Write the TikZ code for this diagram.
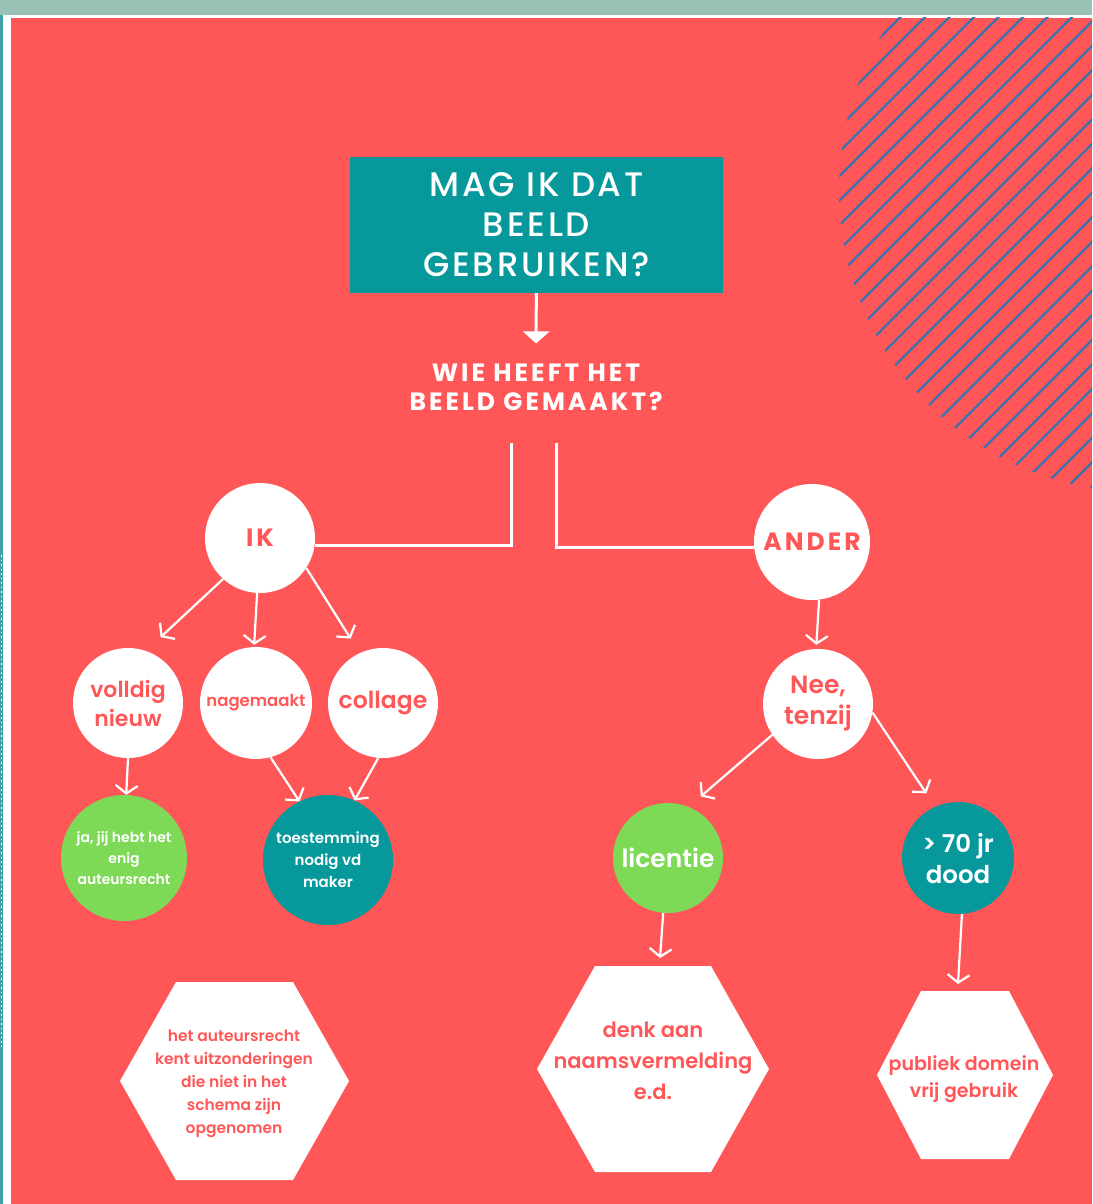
\documentclass[tikz,border=0pt]{standalone}
\usepackage{fontspec}
\setmainfont{Poppins}[UprightFont=* SemiBold, BoldFont=* Bold]
\newfontfamily\titelfont{Poppins}[UprightFont=* Medium, LetterSpace=8]
\newfontfamily\kopfont{Poppins}[UprightFont=* Bold, LetterSpace=12]
\usetikzlibrary{arrows.meta}
\definecolor{koraal}{HTML}{FF5757}
\definecolor{petrol}{HTML}{07989C}
\definecolor{gras}{HTML}{7ED957}
\definecolor{mint}{HTML}{99C1B5}
\definecolor{streep}{HTML}{3A72AE}
\definecolor{rand}{HTML}{3DA1A5}

\begin{document}
\begin{tikzpicture}[x=1pt,y=-1pt,
    bol/.style={circle,inner sep=0pt,align=center},
    wit/.style={bol,fill=white,text=koraal},
    groen/.style={bol,fill=gras,text=white},
    blauw/.style={bol,fill=petrol,text=white},
    pijl/.style={white,line width=2.2pt,-{Straight Barb[length=8pt,width=22pt,line width=2.2pt]}},
    lijn/.style={white,line width=3pt}]
        \useasboundingbox (0,0) rectangle (1092,1204);
        % achtergrond
        \fill[white] (0,0) rectangle (1092,1204);
        \fill[mint] (0,0) rectangle (1092,15);
        \fill[rand] (0,15) rectangle (3,1204);
        \draw[white,line width=1pt,dash pattern=on 1.5pt off 3pt] (1.5,555)--(1.5,1050);
        \fill[koraal] (11,18) rectangle (1092,1204);
        \begin{scope}
            \clip (11,18) rectangle (1092,1204);
            \clip (1141,190) circle (302);
            \foreach \k in {-6,...,23}
                \draw[streep,line width=2.4pt] ({1040+24.5*\k-700},700)--({1040+24.5*\k+100},-100);
        \end{scope}
        % vraag
        \node[fill=petrol,minimum width=373pt,minimum height=136pt,text=white,align=center,
            font=\titelfont\fontsize{34}{40}\selectfont] (vraag) at (536.5,225) {MAG IK DAT\\BEELD\\GEBRUIKEN?};
        \node[text=white,align=center,inner sep=0pt,font=\kopfont\fontsize{25}{29}\selectfont]
            (wie) at (536,387) {WIE HEEFT HET\\BEELD GEMAAKT?};
        \draw[white,line width=3pt,-{Triangle[length=12pt,width=26pt]},shorten >=20pt] (vraag)--(wie);
        % ik en ander
        \node[wit,minimum size=110pt,font=\kopfont\fontsize{25}{28}\selectfont] (ik) at (260,538) {IK};
        \node[wit,minimum size=116pt,font=\kopfont\fontsize{25}{28}\selectfont] (ander) at (812,542) {ANDER};
        \coordinate (splitl) at (511,443);
        \coordinate (splitr) at (556,443);
        \draw[lijn] (splitl) |- (ik.352);
        \draw[lijn] (splitr) |- (ander.185);
        % tweede rij
        \node[wit,minimum size=110pt,font=\fontsize{22}{29}\selectfont] (vol) at (128,703) {volldig\\nieuw};
        \node[wit,minimum size=112pt,font=\fontsize{16.5}{20}\selectfont] (nag) at (256,703) {nagemaakt};
        \node[wit,minimum size=110pt,font=\fontsize{23.5}{28}\selectfont] (col) at (383,703) {collage};
        \node[wit,minimum size=110pt,font=\fontsize{25}{31}\selectfont] (nee) at (818,704) {Nee,\\tenzij};
        % derde rij
        \node[groen,minimum size=126pt,font=\fontsize{14}{21}\selectfont] (ja) at (124,858) {ja, jij hebt het\\enig\\auteursrecht};
        \node[blauw,minimum size=130pt,font=\fontsize{15}{22}\selectfont] (toe) at (328,860) {toestemming\\nodig vd\\maker};
        \node[groen,minimum size=110pt,font=\fontsize{25}{30}\selectfont] (lic) at (668,858) {licentie};
        \node[blauw,minimum size=112pt,font=\fontsize{24.5}{31}\selectfont] (dood) at (958,858) {> 70 jr\\dood};
        % zeshoeken
        \fill[white] (120,1081)--(176,982)--(293,982)--(349,1081)--(293,1180)--(176,1180)--cycle;
        \fill[white] (537,1069)--(595,966)--(711,966)--(769,1069)--(711,1172)--(595,1172)--cycle;
        \fill[white] (877,1075)--(921,991)--(1009,991)--(1053,1075)--(1009,1159)--(921,1159)--cycle;
        \node[text=koraal,align=center,font=\fontsize{15.5}{23}\selectfont] (uitz) at (234,1084)
            {het auteursrecht\\kent uitzonderingen\\die niet in het\\schema zijn\\opgenomen};
        \node[text=koraal,align=center,font=\fontsize{21}{31}\selectfont] (naam) at (653,1061)
            {denk aan\\naamsvermelding\\e.d.};
        \node[text=koraal,align=center,font=\fontsize{19}{27}\selectfont] (domein) at (964,1079)
            {publiek domein\\vrij gebruik};
        \coordinate (naampunt) at (660,958);
        \coordinate (domeinpunt) at (958,984);
        % pijlen
        \draw[pijl,shorten >=20pt] (ik.228)--(vol.71);
        \draw[pijl,shorten >=2pt] (ik.267)--(nag.92);
        \draw[pijl,shorten >=17pt] (ik.327)--(col.115);
        \draw[pijl,shorten >=4pt] (ander.277)--(nee.92);
        \draw[pijl] (vol.270)--(ja.88);
        \draw[pijl] (nag.285)--(toe.116);
        \draw[pijl] (col.265)--(toe.66);
        \draw[pijl,shorten >=16pt] (nee.214)--(lic.68);
        \draw[pijl,shorten >=16pt] (nee.351)--(dood.114);
        \draw[pijl] (lic.265)--(naampunt);
        \draw[pijl] (dood.274)--(domeinpunt);
\end{tikzpicture}
\end{document}
